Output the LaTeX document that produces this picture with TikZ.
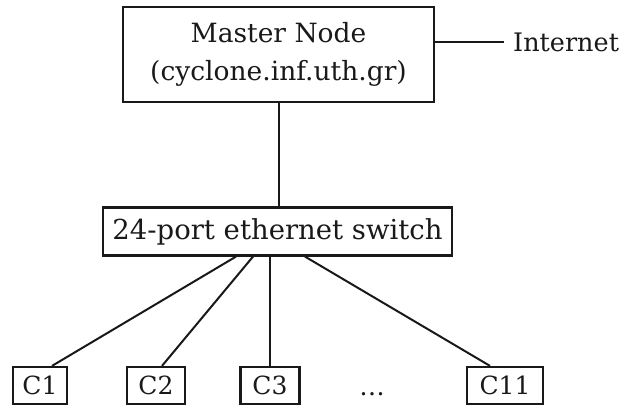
\documentclass[tikz,border=0pt]{standalone}
\usepackage{fontspec}
\setmainfont{DejaVu Serif}
\begin{document}
\begin{tikzpicture}[x=1pt,y=1pt,
  every node/.style={text=black!90},
  box/.style={draw=black!90, line width=2.2pt, inner sep=0pt, align=center,
    font=\fontsize{25}{38}\selectfont},
  link/.style={draw=black!90, line width=2pt},
  lbl/.style={inner sep=0pt, font=\fontsize{25.5}{38}\selectfont}]
\useasboundingbox (0,0) rectangle (627,408);
\node[box, minimum width=311, minimum height=95, font=\fontsize{26.5}{38}\selectfont] (m) at (278.5,353.5)
  {Master Node\\(cyclone.inf.uth.gr)};
\node[lbl, anchor=west] (inet) at (513,366) {Internet};
\coordinate (ie) at (504,366);
\node[box, minimum width=349, minimum height=48, font=\fontsize{27.5}{38}\selectfont] (sw) at (277.5,176.5)
  {24-port ethernet switch};
\node[box, minimum width=54, minimum height=37] (c1) at (40,22.5) {C1};
\node[box, minimum width=58, minimum height=37] (c2) at (156,22.5) {C2};
\node[box, minimum width=59, minimum height=37] (c3) at (270,22.5) {C3};
\node[box, minimum width=76, minimum height=37] (c11) at (505,22.5) {C11};
\node[lbl] (dots) at (372,14) {\dots};
\draw[link] (m.east |- ie) -- (ie);
\draw[link] (m.south) -- (m.south |- sw.north);
\draw[link] ([xshift=-41.5]sw.south) -- ([xshift=12]c1.north);
\draw[link] ([xshift=-24.5]sw.south) -- ([xshift=6]c2.north);
\draw[link] ([xshift=-7.5]sw.south) -- (c3.north);
\draw[link] ([xshift=27.5]sw.south) -- ([xshift=-15]c11.north);
\end{tikzpicture}
\end{document}
